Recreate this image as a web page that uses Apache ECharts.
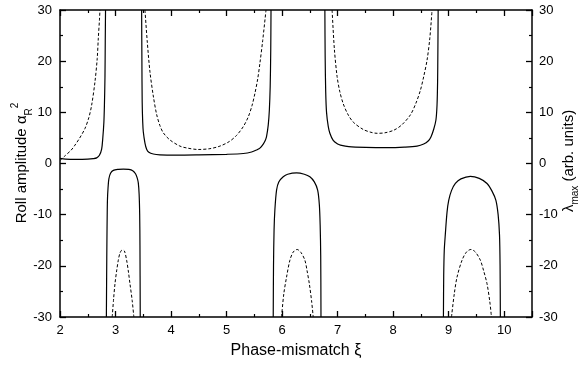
<!DOCTYPE html>
<html>
<head>
<meta charset="utf-8">
<script src="https://cdn.jsdelivr.net/npm/echarts@6/dist/echarts.min.js"></script>
<style>
  html, body { margin: 0; padding: 0; background: #fff; }
  #chart { width: 579px; height: 366px; }
</style>
</head>
<body>
<div id="chart"></div>
<script>
(function () {
  // solid curve, upper branches
  const solidUp1 = [[2.0, 1.0], [2.1, 0.85], [2.3, 0.8], [2.5, 0.85], [2.6, 0.95], [2.66, 1.1], [2.71, 1.6], [2.75, 2.8], [2.77, 4.9], [2.79, 8.0], [2.80, 11.4], [2.81, 17], [2.815, 24], [2.82, 30]];
  const solidUp2 = [[3.47, 30], [3.475, 20], [3.48, 12], [3.49, 8], [3.50, 6.2], [3.53, 4.0], [3.56, 2.8], [3.60, 2.2], [3.68, 1.85], [3.8, 1.7], [4.1, 1.65], [4.5, 1.7], [5.0, 1.8], [5.3, 1.95], [5.45, 2.25], [5.55, 2.7], [5.60, 3.0], [5.66, 3.8], [5.70, 4.6], [5.72, 5.3], [5.75, 7.5], [5.77, 10.4], [5.785, 15], [5.795, 22], [5.80, 30]];
  const solidUp3 = [[6.77, 30], [6.775, 21], [6.785, 14], [6.80, 10], [6.83, 7.3], [6.86, 5.9], [6.92, 4.5], [7.0, 3.8], [7.05, 3.6], [7.2, 3.3], [7.5, 3.15], [7.9, 3.1], [8.2, 3.2], [8.43, 3.4], [8.55, 3.8], [8.63, 4.4], [8.68, 5.2], [8.73, 6.7], [8.77, 8.5], [8.79, 11.5], [8.80, 16], [8.805, 22], [8.81, 30]];
  // solid curve, lower lobes
  const solidLo1 = [[2.835, -30], [2.84, -22], [2.845, -15], [2.85, -10], [2.855, -7], [2.865, -4.8], [2.88, -3.0], [2.91, -1.9], [2.96, -1.35], [3.05, -1.15], [3.14, -1.1], [3.24, -1.15], [3.31, -1.4], [3.36, -2.0], [3.39, -2.8], [3.41, -3.8], [3.425, -6], [3.435, -10], [3.44, -16], [3.445, -30]];
  const solidLo2 = [[5.84, -30], [5.845, -20], [5.855, -13], [5.87, -9], [5.90, -5.2], [5.94, -3.6], [6.02, -2.6], [6.10, -2.1], [6.26, -1.83], [6.40, -2.1], [6.50, -2.6], [6.58, -3.6], [6.64, -5.2], [6.67, -8], [6.685, -12], [6.695, -18], [6.70, -30]];
  const solidLo3 = [[8.905, -30], [8.91, -22], [8.92, -17], [8.94, -13.7], [8.97, -9.5], [9.00, -7.2], [9.05, -5.3], [9.12, -3.9], [9.22, -3.0], [9.39, -2.5], [9.55, -2.9], [9.69, -3.9], [9.78, -5.4], [9.85, -7.2], [9.89, -10], [9.915, -14], [9.925, -20], [9.93, -30]];

  // dashed curve, upper branches
  const dashUp1 = [[2.0, 0.6], [2.1, 1.6], [2.2, 2.6], [2.27, 3.6], [2.35, 4.9], [2.45, 6.85], [2.52, 9.0], [2.57, 11.4], [2.63, 16.0], [2.67, 20.5], [2.69, 24.5], [2.71, 28], [2.72, 30]];
  const dashUp2 = [[3.53, 30], [3.57, 24], [3.62, 17.9], [3.68, 13.2], [3.74, 9.6], [3.80, 7.4], [3.86, 6.0], [3.98, 4.6], [4.16, 3.4], [4.3, 3.0], [4.49, 2.74], [4.7, 2.9], [4.88, 3.4], [5.05, 4.3], [5.18, 5.5], [5.3, 7.2], [5.39, 9.1], [5.46, 11.4], [5.51, 13.7], [5.56, 16.5], [5.60, 19.6], [5.65, 24], [5.71, 30]];
  const dashUp3 = [[6.90, 30], [6.94, 22.5], [6.99, 17.0], [7.04, 14.0], [7.10, 11.7], [7.18, 9.7], [7.28, 8.1], [7.46, 6.65], [7.6, 6.1], [7.71, 5.9], [7.85, 6.0], [8.01, 6.5], [8.15, 7.5], [8.31, 9.5], [8.41, 11.8], [8.49, 14.3], [8.55, 17.0], [8.61, 20.2], [8.66, 24.5], [8.70, 30]];
  // dashed curve, lower lobes
  const dashLo1 = [[2.94, -30], [2.965, -26.5], [2.99, -23.5], [3.02, -21], [3.05, -18.9], [3.08, -17.5], [3.12, -16.9], [3.16, -17.1], [3.20, -18.9], [3.23, -21], [3.26, -23.5], [3.30, -26.8], [3.33, -30]];
  const dashLo2 = [[5.99, -30], [6.03, -25.5], [6.08, -22.2], [6.14, -18.9], [6.20, -17.3], [6.27, -16.8], [6.34, -17.4], [6.41, -18.9], [6.45, -21], [6.49, -23.5], [6.53, -26.8], [6.56, -30]];
  const dashLo3 = [[9.05, -30], [9.10, -25.5], [9.15, -22.2], [9.24, -18.9], [9.32, -17.3], [9.40, -16.8], [9.48, -17.3], [9.57, -18.9], [9.63, -21], [9.69, -23.5], [9.74, -27], [9.77, -30]];

  const solidBranches = [solidUp1, solidUp2, solidUp3, solidLo1, solidLo2, solidLo3];
  const dashedBranches = [dashUp1, dashUp2, dashUp3, dashLo1, dashLo2, dashLo3];

  const font = "'Liberation Sans', Arial, Helvetica, sans-serif";

  function makeLine(data, dashed) {
    return {
      type: "line",
      data: data,
      showSymbol: false,
      symbol: "none",
      smooth: 0.3,
      silent: true,
      animation: false,
      lineStyle: {
        color: "#000",
        width: dashed ? 1 : 1.2,
        type: dashed ? [3, 2] : "solid",
      },
    };
  }

  const series = solidBranches.map((d) => makeLine(d, false))
    .concat(dashedBranches.map((d) => makeLine(d, true)));

  const axisLine = { show: true, onZero: false, lineStyle: { color: "#000", width: 1.5 } };
  const tick = { show: true, inside: true, length: 6, lineStyle: { color: "#000", width: 1.3 } };
  const minor = { show: true, splitNumber: 2, length: 3, lineStyle: { color: "#000", width: 1.2 } };
  const label = { color: "#000", fontSize: 13, fontFamily: font };

  const chart = echarts.init(document.getElementById("chart"));

  chart.setOption({
    animation: false,
    grid: { left: 60, right: 47, top: 10, bottom: 49 },
    xAxis: [
      {
        type: "value", min: 2, max: 10.5, interval: 1,
        name: "Phase-mismatch ξ",
        nameLocation: "middle",
        nameGap: 26,
        nameTextStyle: { color: "#000", fontSize: 16, fontFamily: font },
        axisLine: axisLine, axisTick: tick, minorTick: minor,
        axisLabel: Object.assign({ margin: 7, showMaxLabel: false }, label),
        splitLine: { show: false },
      },
      {
        type: "value", min: 2, max: 10.5, interval: 1, position: "top",
        axisLine: axisLine, axisTick: tick, minorTick: minor,
        axisLabel: { show: false },
        splitLine: { show: false },
      },
    ],
    yAxis: [
      {
        type: "value", min: -30, max: 30, interval: 10,
        axisLine: axisLine, axisTick: tick, minorTick: minor,
        axisLabel: Object.assign({ margin: 8 }, label),
        splitLine: { show: false },
      },
      {
        type: "value", min: -30, max: 30, interval: 10, position: "right",
        axisLine: axisLine, axisTick: tick, minorTick: minor,
        axisLabel: Object.assign({ margin: 7 }, label),
        splitLine: { show: false },
      },
    ],
    graphic: [
      {
        type: "text",
        x: 22, y: 163,
        rotation: Math.PI / 2,
        style: {
          text: "{m|Roll amplitude α}{sub|R}{sup|2}",
          align: "center",
          verticalAlign: "middle",
          rich: {
            m: { fontSize: 15, fontFamily: font, fill: "#000", lineHeight: 24 },
            sub: { fontSize: 10, fontFamily: font, fill: "#000", verticalAlign: "bottom", lineHeight: 14 },
            sup: { fontSize: 10, fontFamily: font, fill: "#000", verticalAlign: "top", lineHeight: 14 },
          },
        },
      },
      {
        type: "text",
        x: 569, y: 161,
        rotation: Math.PI / 2,
        style: {
          text: "{m|λ}{sub|max}{m| (arb. units)}",
          align: "center",
          verticalAlign: "middle",
          rich: {
            m: { fontSize: 15, fontFamily: font, fill: "#000", lineHeight: 22 },
            sub: { fontSize: 10, fontFamily: font, fill: "#000", verticalAlign: "bottom", lineHeight: 14 },
          },
        },
      },
    ],
    series: series,
  });

  window.addEventListener("resize", () => {
    chart.resize();
  });
})();
</script>
</body>
</html>
